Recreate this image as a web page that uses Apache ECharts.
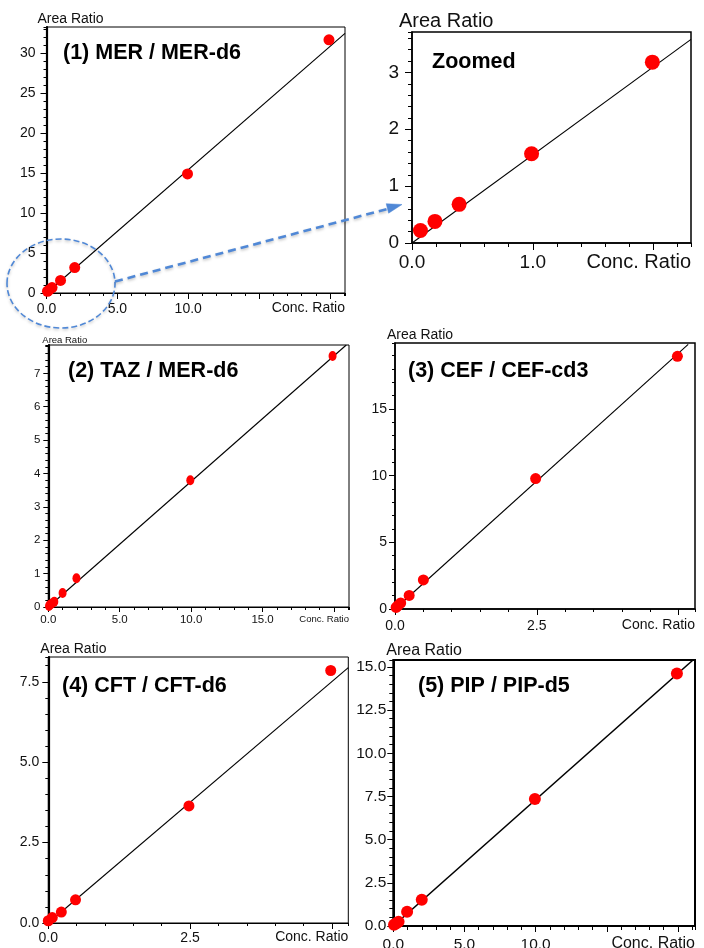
<!DOCTYPE html>
<html><head><meta charset="utf-8">
<script src="https://cdn.jsdelivr.net/npm/echarts@6/dist/echarts.min.js"></script>
<style>html,body{margin:0;padding:0;background:#fff}#c{width:704px;height:948px}</style>
</head><body><div id="c"></div>
<script>
// ---------- DATA ----------
const titles = ['(1) MER / MER-d6', 'Zoomed', '(2) TAZ / MER-d6', '(3) CEF / CEF-cd3', '(4) CFT / CFT-d6', '(5) PIP / PIP-d5'];

const merX = [0.07, 0.19, 0.39, 0.99, 1.99, 9.95, 19.93];
const merY = [0.22, 0.38, 0.68, 1.57, 3.18, 14.9, 31.7];
const merFitX = [0, 21.06];
const merFitY = [0, 32.5];

const zoomX = [0.07, 0.19, 0.39, 0.99, 1.99];
const zoomY = [0.22, 0.38, 0.68, 1.57, 3.18];
const zoomFitX = [0, 2.31];
const zoomFitY = [0, 3.58];

const tazX = [0.05, 0.12, 0.28, 0.42, 1.0, 1.97, 9.94, 19.9];
const tazY = [0.03, 0.07, 0.11, 0.16, 0.42, 0.86, 3.8, 7.52];
const tazFitX = [0, 20.86];
const tazFitY = [0, 7.85];

const cefX = [0.02, 0.05, 0.1, 0.25, 0.5, 2.48, 4.98];
const cefY = [0.12, 0.25, 0.45, 1.02, 2.18, 9.78, 18.95];
const cefFitX = [0, 5.17];
const cefFitY = [0, 19.85];

const cftX = [0.0, 0.07, 0.23, 0.48, 2.48, 4.98];
const cftY = [0.07, 0.17, 0.34, 0.72, 3.64, 7.85];
const cftFitX = [0, 5.29];
const cftFitY = [0, 7.94];

const pipX = [0.05, 0.2, 0.37, 0.97, 2.0, 9.95, 19.93];
const pipY = [0.07, 0.15, 0.25, 0.82, 1.52, 7.35, 14.62];
const pipFitX = [0, 21.06];
const pipFitY = [0, 15.4];

// tick labels
const merXTicks = ['0.0', '5.0', '10.0'];
const merYTicks = ['0', '5', '10', '15', '20', '25', '30'];
const zoomXTicks = ['0.0', '1.0'];
const zoomYTicks = ['0', '1', '2', '3'];
const tazXTicks = ['0.0', '5.0', '10.0', '15.0'];
const tazYTicks = ['0', '1', '2', '3', '4', '5', '6', '7'];
const cefXTicks = ['0.0', '2.5'];
const cefYTicks = ['0', '5', '10', '15'];
const cftXTicks = ['0.0', '2.5'];
const cftYTicks = ['0.0', '2.5', '5.0', '7.5'];
const pipXTicks = ['0.0', '5.0', '10.0'];
const pipYTicks = ['0.0', '2.5', '5.0', '7.5', '10.0', '12.5', '15.0'];

const xName = 'Conc. Ratio';
const yName = 'Area Ratio';

// ---------- LAYOUT ----------
const SANS = "'Liberation Sans', Arial, sans-serif";

const panels = [
  {x: merX, y: merY, fx: merFitX, fy: merFitY, xt: merXTicks, yt: merYTicks,
   grid: {left: 46.5, top: 27, width: 298.5, height: 266},
   xr: [0, 21.06, 5, 1], yr: [0, 33.3, 5, 1], font: 14, nameFont: 14,
   xm: 9, ym: 11, major: 6, minor: 3, border: 1, yLine: 2.2, sym: 11,
   title: {left: 63, top: 42.5}, yNamePad: -9, yNameGap: 1, xNamePad: 8},
  {x: zoomX, y: zoomY, fx: zoomFitX, fy: zoomFitY, xt: zoomXTicks, yt: zoomYTicks,
   grid: {left: 412, top: 32, width: 279, height: 211},
   xr: [0, 2.31, 1, 0.2], yr: [0, 3.71, 1, 0.2], font: 19, nameFont: 20,
   xm: 10, ym: 13, major: 7, minor: 4, border: 1.5, yLine: 1.5, sym: 15,
   title: {left: 432, top: 51.5}, yNamePad: -13, yNameGap: 1, xNamePad: 9},
  {x: tazX, y: tazY, fx: tazFitX, fy: tazFitY, xt: tazXTicks, yt: tazYTicks,
   grid: {left: 48.3, top: 345, width: 300.7, height: 262},
   xr: [0, 21.05, 5, 1], yr: [0, 7.85, 1, 0.2], font: 11.5, nameFont: 9.5,
   xm: 7, ym: 8, major: 5, minor: 3, border: 1, yLine: 2.2, sym: [8, 10],
   title: {left: 68, top: 360.5}, yNamePad: -6, yNameGap: 0, xNamePad: 7},
  {x: cefX, y: cefY, fx: cefFitX, fy: cefFitY, xt: cefXTicks, yt: cefYTicks,
   grid: {left: 395, top: 343, width: 300, height: 266},
   xr: [0, 5.29, 2.5, 0.5], yr: [0, 19.95, 5, 1], font: 14, nameFont: 14,
   xm: 10, ym: 8, major: 6, minor: 3, border: 1.5, yLine: 1.5, sym: 11,
   title: {left: 408, top: 360.5}, yNamePad: -8, yNameGap: 1, xNamePad: 9},
  {x: cftX, y: cftY, fx: cftFitX, fy: cftFitY, xt: cftXTicks, yt: cftYTicks,
   grid: {left: 48.3, top: 657, width: 300, height: 266},
   xr: [0, 5.29, 2.5, 0.5], yr: [0, 8.27, 2.5, 0.5], font: 14, nameFont: 14,
   xm: 8, ym: 9, major: 6, minor: 3, border: 1, yLine: 2.2, sym: 11,
   title: {left: 62, top: 675.5}, yNamePad: -8, yNameGap: 1, xNamePad: 7},
  {x: pipX, y: pipY, fx: pipFitX, fy: pipFitY, xt: pipXTicks, yt: pipYTicks,
   grid: {left: 393.3, top: 660, width: 301.7, height: 266},
   xr: [0, 21.2, 5, 1], yr: [0, 15.4, 2.5, 0.5], font: 15.5, nameFont: 16,
   xm: 11, ym: 7, major: 6, minor: 4, border: 2, yLine: 2, sym: 12,
   title: {left: 418, top: 675.5}, yNamePad: -7, yNameGap: -3, xNamePad: 10}
];

const grid = [], xAxis = [], yAxis = [], series = [], title = [];
const TXT = '#111';

panels.forEach((p, i) => {
  grid.push(Object.assign({show: true, borderColor: '#000', borderWidth: p.border,
    backgroundColor: 'transparent', containLabel: false, outerBoundsMode: 'none'}, p.grid));
  const xVals = p.xt.map(Number), yVals = p.yt.map(Number);
  const fmt = (labels, vals) => v => {
    const k = vals.findIndex(t => Math.abs(t - v) < 1e-9);
    return k >= 0 ? labels[k] : '';
  };
  // major x axis
  xAxis.push({
    type: 'value', gridIndex: i, position: 'bottom', min: p.xr[0], max: p.xr[1], interval: p.xr[2],
    axisLine: {show: true, onZero: false, lineStyle: {color: '#000', width: p.border}},
    axisTick: {show: true, length: p.major, lineStyle: {color: '#000', width: 1}},
    axisLabel: {show: true, margin: p.xm, color: TXT, fontSize: p.font, fontFamily: SANS,
      formatter: fmt(p.xt, xVals), showMaxLabel: false},
    splitLine: {show: false},
    name: xName, nameLocation: 'end', nameGap: 0,
    nameTextStyle: {align: 'right', verticalAlign: 'top', color: TXT, fontSize: p.nameFont,
      fontFamily: SANS, padding: [p.xNamePad, 0, 0, 0]}
  });
  // minor x axis (ticks only)
  xAxis.push({
    type: 'value', gridIndex: i, position: 'bottom', offset: 0, min: p.xr[0], max: p.xr[1], interval: p.xr[3],
    axisLine: {show: false, onZero: false}, axisLabel: {show: false}, splitLine: {show: false},
    axisTick: {show: true, length: p.minor, lineStyle: {color: '#000', width: 1}}
  });
  yAxis.push({
    type: 'value', gridIndex: i, position: 'left', min: p.yr[0], max: p.yr[1], interval: p.yr[2],
    axisLine: {show: true, onZero: false, lineStyle: {color: '#000', width: p.yLine}},
    axisTick: {show: true, length: p.major, lineStyle: {color: '#000', width: 1}},
    axisLabel: {show: true, margin: p.ym, color: TXT, fontSize: p.font, fontFamily: SANS,
      formatter: fmt(p.yt, yVals), showMaxLabel: false},
    splitLine: {show: false},
    name: yName, nameLocation: 'end', nameGap: p.yNameGap,
    nameTextStyle: {align: 'left', verticalAlign: 'bottom', color: TXT, fontSize: p.nameFont,
      fontFamily: SANS, padding: [0, 0, 0, p.yNamePad]}
  });
  yAxis.push({
    type: 'value', gridIndex: i, position: 'left', offset: 0, min: p.yr[0], max: p.yr[1], interval: p.yr[3],
    axisLine: {show: false, onZero: false}, axisLabel: {show: false}, splitLine: {show: false},
    axisTick: {show: true, length: p.minor, lineStyle: {color: '#000', width: 1}}
  });
  series.push({
    type: 'line', xAxisIndex: 2 * i, yAxisIndex: 2 * i, symbol: 'none', silent: true,
    data: p.fx.map((v, k) => [v, p.fy[k]]),
    lineStyle: {color: '#000', width: i === 5 ? 1.6 : 1.1}, clip: true, z: 2
  });
  series.push({
    type: 'scatter', xAxisIndex: 2 * i, yAxisIndex: 2 * i, symbol: 'circle', symbolSize: p.sym,
    data: p.x.map((v, k) => [v, p.y[k]]), clip: false,
    itemStyle: {color: '#ff0000', opacity: 1}, z: 3
  });
  title.push({text: titles[i], left: p.title.left, top: p.title.top, padding: 0,
    textStyle: {fontSize: 21.5, fontWeight: 'bold', color: '#000', fontFamily: SANS}});
});

const blue = '#5088d6';
const chart = echarts.init(document.getElementById('c'), null, {renderer: 'canvas'});
chart.setOption({
  animation: false,
  backgroundColor: '#fff',
  title, grid, xAxis, yAxis, series,
  graphic: [
    {type: 'ellipse', shape: {cx: 61, cy: 283.5, rx: 54, ry: 44.5}, z: 100,
     style: {fill: 'none', stroke: blue, lineWidth: 1.6, lineDash: [6, 3],
       shadowBlur: 3, shadowColor: 'rgba(0,0,0,0.25)', shadowOffsetY: 1.5}},
    {type: 'line', shape: {x1: 115, y1: 281.5, x2: 389, y2: 208.5}, z: 100,
     style: {stroke: blue, lineWidth: 2.6, lineDash: [8, 5],
       shadowBlur: 3, shadowColor: 'rgba(0,0,0,0.25)', shadowOffsetY: 1.5}},
    {type: 'polygon', shape: {points: [[402, 204.5], [388.6, 213.2], [386.2, 203.7]]}, z: 100,
     style: {fill: blue, stroke: blue, lineWidth: 0.5}}
  ]
});
</script></body></html>
